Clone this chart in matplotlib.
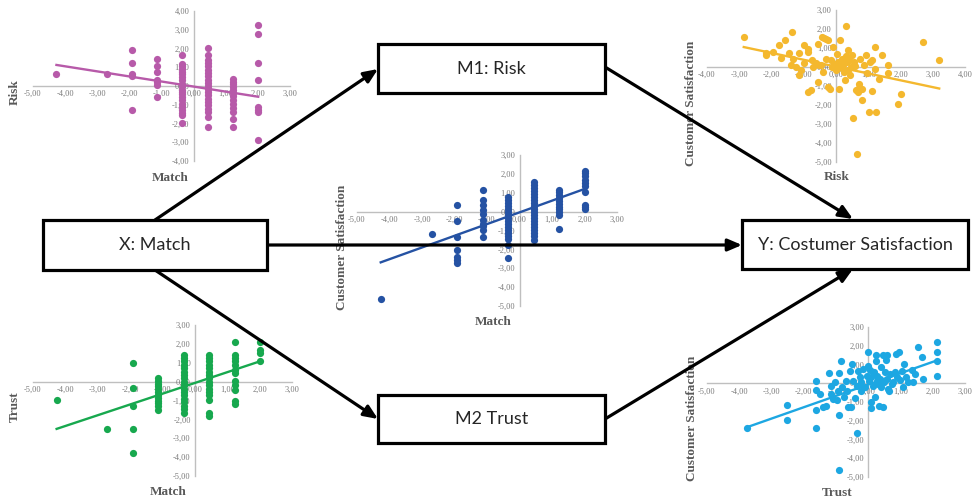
import numpy as np
import matplotlib.pyplot as plt
from matplotlib.patches import Rectangle
from matplotlib.ticker import FuncFormatter, MultipleLocator

# ---- data ----
match_levels = [-4.27, -2.70, -1.92, -1.13, -0.35, 0.44, 1.23, 2.01]

# Risk by Match column (purple)
risk_by_match = [
    [0.66],
    [0.66],
    [1.93, 1.22, 0.66, 0.51, -1.26],
    [1.42, 1.05, 0.73, 0.34, 0.21, 0.04, -0.59],
    [1.63, 1.19, 1.05, 0.92, 0.74, 0.62, 0.48, 0.30, 0.12, -0.02, -0.20, -0.32,
     -0.44, -0.59, -0.76, -0.94, -1.12, -1.29, -1.44, -1.56, -1.97],
    [2.04, 1.63, 1.40, 1.22, 1.05, 0.87, 0.69, 0.51, 0.34, 0.16, -0.02, -0.14,
     -0.32, -0.50, -0.67, -0.85, -1.03, -1.21, -1.38, -1.65, -2.18],
    [0.35, 0.21, 0.09, -0.05, -0.20, -0.37, -0.55, -0.73, -0.94, -1.15, -1.38,
     -1.74, -2.18],
    [3.26, 2.75, 1.22, 0.34, -1.12, -1.26, -1.40, -2.89],
]

# Customer satisfaction by Match column (blue)
cs_by_match = [
    [-4.65],
    [-1.20],
    [0.34, -0.50, -1.35, -2.02, -2.40, -2.58, -2.73],
    [1.17, 0.60, 0.37, 0.10, -0.14, -0.42, -0.64, -0.78, -0.96, -1.35],
    [0.78, 0.62, 0.46, 0.30, 0.14, 0.00, -0.16, -0.32, -0.48, -0.64, -0.80,
     -0.96, -1.12, -1.28, -1.44, -1.79, -2.44],
    [1.58, 1.42, 1.26, 1.10, 0.94, 0.78, 0.62, 0.46, 0.30, 0.14, -0.02, -0.18,
     -0.34, -0.50, -0.66, -0.82, -0.98, -1.14, -1.30, -1.52],
    [1.17, 1.02, 0.87, 0.72, 0.57, 0.42, 0.27, 0.12, -0.03, -0.20, -0.90],
    [2.16, 2.02, 1.88, 1.70, 1.52, 1.35, 1.04, 0.34, 0.25, 0.16],
]

# Trust by Match column (green)
trust_by_match = [
    [-0.95],
    [-2.50],
    [0.99, -0.34, -1.27, -2.50, -3.78],
    [0.19, 0.05, -0.10, -0.25, -0.40, -0.55, -0.70, -0.85, -1.00, -1.15, -1.30,
     -1.52],
    [1.43, 1.25, 1.07, 0.89, 0.71, 0.53, 0.35, 0.17, -0.01, -0.19, -0.37, -0.55,
     -0.73, -0.91, -1.09, -1.27, -1.45, -1.66],
    [1.43, 1.25, 1.07, 0.89, 0.71, 0.53, 0.35, 0.17, -0.01, -0.19, -0.37, -0.55,
     -0.73, -0.95, -1.66, -1.80],
    [2.10, 1.43, 1.25, 1.08, 0.90, 0.64, 0.46, 0.02, -0.16, -0.42, -1.04, -1.17],
    [2.10, 1.66, 1.52, 1.08],
]

# Customer satisfaction vs Risk (yellow)
risk_x = [-2.86, -2.16, -2.16, -1.96, -1.77, -1.70, -1.57, -1.46, -1.39, -1.36,
          -1.32, -1.24, -1.15, -1.15, -1.08, -0.98, -0.88, -0.88, -0.88, -0.77,
          -0.74, -0.72, -0.57, -0.57, -0.52, -0.43, -0.39, -0.36, -0.31, -0.31,
          -0.26, -0.26, -0.19, -0.15, -0.12, -0.08, 0.00, 0.03, 0.07, 0.10,
          0.12, 0.15, 0.18, 0.23, 0.26, 0.28, 0.31, 0.33, 0.36, 0.38,
          0.41, 0.43, 0.46, 0.49, 0.52, 0.55, 0.62, 0.64, 0.67, 0.70,
          0.72, 0.74, 0.80, 0.82, 0.88, 0.93, 1.01, 1.05, 1.11, 1.13,
          1.22, 1.22, 1.24, 1.32, 1.42, 1.60, 1.60, 1.91, 2.01, 2.70,
          3.20, -0.62, -0.05, 0.05, 0.20, -0.45, 0.58, -1.00, 0.95, 0.30]
cs_risk_y = [1.58, 0.74, 0.61, 0.79, 1.18, 0.49, 1.44, 0.74, 0.09, 1.84,
             0.44, 0.00, 0.74, -0.44, -0.18, 1.18, 0.96, 0.79, -1.32, -1.19,
             0.35, 0.00, 1.23, -0.79, 0.09, 1.58, -0.26, 1.54, 1.49, 0.44,
             -1.05, 1.44, -1.14, 0.39, 0.00, 1.05, -0.18, 0.70, 0.26, -1.14,
             1.44, 0.00, 0.44, 0.09, -0.26, -0.70, 2.14, 0.26, 0.88, -0.14,
             0.39, -0.44, 0.00, 0.61, -2.67, 0.26, -1.19, -4.56, -1.32, -1.09,
             -0.88, 0.44, -1.72, -1.14, 0.09, 0.61, -2.37, 0.26, -1.26, 0.35,
             1.05, -0.09, -2.37, -0.61, 0.61, 0.09, -0.32, -1.96, -1.44, 1.32,
             0.35, 0.20, 0.15, -0.05, 0.30, 0.10, 0.05, 0.20, -0.30, 0.60]

# Customer satisfaction vs Trust (light blue)
trust_x = [-3.76, -2.51, -2.51, -1.61, -1.61, -1.61, -1.61, -1.50, -1.40, -1.30,
           -1.21, -1.17, -1.14, -1.09, -1.04, -0.98, -0.93, -0.91, -0.90, -0.90,
           -0.83, -0.80, -0.76, -0.69, -0.67, -0.62, -0.57, -0.55, -0.49, -0.47,
           -0.41, -0.36, -0.34, -0.31, -0.26, -0.24, -0.21, -0.16, -0.10, -0.05,
           -0.02, 0.00, 0.03, 0.05, 0.07, 0.08, 0.10, 0.16, 0.18, 0.21,
           0.23, 0.24, 0.26, 0.28, 0.31, 0.34, 0.36, 0.38, 0.41, 0.45,
           0.47, 0.49, 0.52, 0.55, 0.57, 0.59, 0.62, 0.65, 0.67, 0.73,
           0.78, 0.83, 0.86, 0.90, 0.96, 0.98, 1.04, 1.09, 1.11, 1.17,
           1.24, 1.35, 1.38, 1.45, 1.55, 1.66, 1.69, 2.12, 2.12, 2.12, 2.12]
cs_trust_y = [-2.38, -1.14, -1.96, 0.11, -0.36, -1.42, -2.38, -0.57, -1.28, -1.19,
              0.53, -0.12, -0.57, -0.84, 0.05, -0.89, -0.39, 0.53, -1.67, -4.62,
              1.21, -0.18, -0.75, 0.14, -0.43, -1.24, 0.68, -1.28, 1.03, 0.11,
              -0.78, -2.67, -0.12, 0.64, 0.32, -0.39, 0.05, 0.76, -0.18, 0.41,
              1.65, 0.94, 0.11, 0.71, -1.01, -1.32, 0.32, -0.12, 0.59, -0.71,
              1.53, 1.21, 0.14, 0.41, -0.04, -1.19, 0.23, 0.89, -0.21, -1.28,
              1.53, 0.05, 0.59, 1.24, 1.53, 0.23, -0.30, -0.39, 0.50, -0.04,
              0.05, 0.62, 1.56, 0.32, 1.65, 0.18, 0.64, -0.18, 1.03, 0.36,
              0.05, 0.71, 0.05, 0.50, 1.92, 1.39, 0.23, 2.19, 1.65, 1.21, 0.41]

# linear trend lines (slope, intercept) as shown in the picture
trend_risk_match = (-0.27, -0.03)
trend_cs_match = (0.62, -0.04)
trend_trust_match = (0.57, -0.07)
trend_cs_risk = (-0.36, 0.02)
trend_cs_trust = (0.605, -0.07)

W, H = 976, 499
fig = plt.figure(figsize=(9.76, 4.99), dpi=100)


def px_rect(x0, x1, y0, y1):
    return [x0 / W, 1 - y1 / H, (x1 - x0) / W, (y1 - y0) / H]


def fmt(v, pos):
    return f"{v:.2f}".replace(".", ",")


def columns(levels, cols):
    xs, ys = [], []
    for lv, col in zip(levels, cols):
        xs += [lv] * len(col)
        ys += col
    return xs, ys


def panel(rect, xlim, ylim, x, y, trend, color):
    ax = fig.add_axes(px_rect(*rect))
    ax.set_facecolor("none")
    ax.scatter(x, y, s=27, color=color, linewidths=0, zorder=3, clip_on=False)
    xs = np.array([min(x), max(x)])
    ax.plot(xs, trend[0] * xs + trend[1], color=color, lw=1.7, zorder=4)
    ax.set_xlim(xlim)
    ax.set_ylim(ylim)
    for s in ["top", "right"]:
        ax.spines[s].set_visible(False)
    for s in ["left", "bottom"]:
        ax.spines[s].set_position("zero")
        ax.spines[s].set_color("#bfbfbf")
        ax.spines[s].set_linewidth(1.0)
        ax.spines[s].set_zorder(1)
    ax.xaxis.set_major_locator(MultipleLocator(1))
    ax.yaxis.set_major_locator(MultipleLocator(1))
    ax.xaxis.set_major_formatter(FuncFormatter(fmt))
    ax.yaxis.set_major_formatter(FuncFormatter(fmt))
    ax.tick_params(length=0, labelsize=6, colors="#7a7a7a", pad=3)
    for lab in ax.get_xticklabels() + ax.get_yticklabels():
        lab.set_fontfamily("Liberation Serif")
    return ax


x1, y1 = columns(match_levels, risk_by_match)
panel((33, 290, 11, 161), (-5, 3), (-4, 4), x1, y1, trend_risk_match, "#b75aa9")

x2, y2 = columns(match_levels, cs_by_match)
panel((357, 617, 155, 306), (-5, 3), (-5, 3), x2, y2, trend_cs_match, "#2552a3")

x3, y3 = columns(match_levels, trust_by_match)
panel((33, 292, 325, 476), (-5, 3), (-5, 3), x3, y3, trend_trust_match, "#17a84e")

panel((707, 965, 10, 162), (-4, 4), (-5, 3), risk_x, cs_risk_y, trend_cs_risk, "#f4b82e")

panel((707, 965, 327, 477), (-5, 3), (-5, 3), trust_x, cs_trust_y, trend_cs_trust, "#1da7e2")

# ---- diagram layer ----
dax = fig.add_axes([0, 0, 1, 1], zorder=10)
dax.set_xlim(0, W)
dax.set_ylim(H, 0)
dax.axis("off")
dax.patch.set_alpha(0)

title_kw = dict(fontfamily="Liberation Serif", fontweight="bold", fontsize=9.5,
                color="#595959", ha="center", va="center", zorder=1)
dax.text(15, 92, "Risk", rotation=90, **title_kw)
dax.text(170, 178, "Match", **title_kw)
dax.text(342, 247, "Customer Satisfaction", rotation=90, **title_kw)
dax.text(493, 322, "Match", **title_kw)
dax.text(15, 407, "Trust", rotation=90, **title_kw)
dax.text(168, 492, "Match", **title_kw)
dax.text(691, 103, "Customer Satisfaction", rotation=90, **title_kw)
dax.text(837, 177, "Risk", **title_kw)
dax.text(692, 418, "Customer Satisfaction", rotation=90, **title_kw)
dax.text(837, 493, "Trust", **title_kw)

boxes = [
    ("M1: Risk", 378, 44, 605, 93),
    ("X: Match", 43, 220, 267, 270),
    ("Y: Costumer Satisfaction", 742, 220, 968, 269),
    ("M2 Trust", 378, 395, 605, 443),
]
for label, bx0, by0, bx1, by1 in boxes:
    dax.add_patch(Rectangle((bx0, by0), bx1 - bx0, by1 - by0, facecolor="white",
                            edgecolor="black", lw=2.3, zorder=6))
    dax.text((bx0 + bx1) / 2, (by0 + by1) / 2, label, fontfamily="Lato",
             fontsize=13, color="#262626", ha="center", va="center", zorder=7)

arrows = [
    ((155, 220), (378, 69)),
    ((605, 67), (853, 219)),
    ((267, 245), (742, 245)),
    ((155, 270), (378, 419)),
    ((605, 419), (853, 269)),
]
for start, end in arrows:
    dax.annotate("", xy=end, xytext=start, zorder=5,
                 arrowprops=dict(arrowstyle="-|>,head_length=0.7,head_width=0.3",
                                 lw=2.3, color="black", mutation_scale=12,
                                 shrinkA=0, shrinkB=0))

fig.savefig("out.png", dpi=100)
